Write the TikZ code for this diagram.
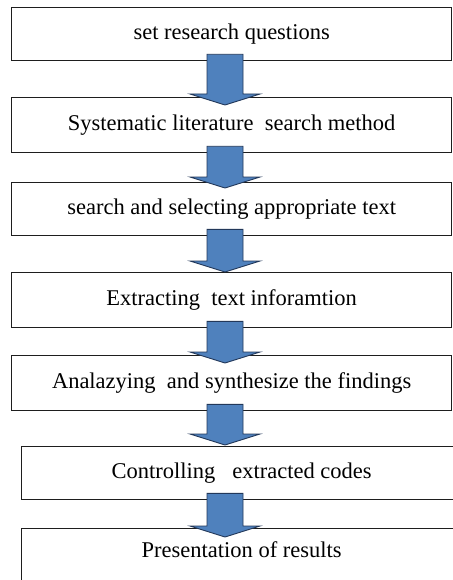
\documentclass[tikz,border=0pt]{standalone}
\usepackage{fontspec}
\setmainfont{Liberation Serif}
\usetikzlibrary{calc}
\definecolor{boxline}{HTML}{1E1E1E}
\definecolor{arrowfill}{HTML}{4F81BD}
\definecolor{arrowline}{HTML}{22385A}

% block arrow from the bottom of box #1 to box #2; #3 = how far the tip reaches into box #2
\newcommand\flowarrow[3]{%
  \path[blockarrow]
    ($(ax |- #1.south)+(-18,-7)$) --
    ($(ax |- #2.north)+(-18,#3-11)$) --
    ($(ax |- #2.north)+(-35,#3-11)$) --
    ($(ax |- #2.north)+(0,#3)$) --
    ($(ax |- #2.north)+(35,#3-11)$) --
    ($(ax |- #2.north)+(18,#3-11)$) --
    ($(ax |- #1.south)+(18,-7)$) -- cycle;%
}

\begin{document}
\begin{tikzpicture}[x=1pt,y=-1pt,
  labelfont/.style={font=\fontsize{22.5}{24}\selectfont},
  stepbox/.style={draw=boxline, line width=1.3pt, fill=white, anchor=north west,
    inner sep=0pt, labelfont},
  widebox/.style={stepbox, minimum width=440pt},
  blockarrow/.style={fill=arrowfill, draw=arrowline, line width=0.9pt, line join=miter}]
\useasboundingbox (0,0) rectangle (452,580);
\fill[white] (0,0) rectangle (452,580);
\coordinate (ax) at (225,0);

\node[widebox, minimum height=53pt] (b1) at (11,7) {set research questions};
\node[widebox, minimum height=55pt] (b2) at (11,97) {Systematic literature\ \ search method};
\node[widebox, minimum height=53pt] (b3) at (11,182) {search and selecting appropriate text};
\node[widebox, minimum height=55pt] (b4) at (11,272) {Extracting\ \ text inforamtion};
\node[widebox, minimum height=55pt] (b5) at (11,355) {Analazying\ \ and synthesize the findings};
\node[widebox, minimum height=53pt] (b6) at (21,446) {Controlling\ \ \ extracted codes};
\node[widebox, minimum height=60pt] (b7) at (21,528) {};
\node[labelfont, inner sep=0pt] (t7) at ($(b7.north)+(0,22)$) {Presentation of results};

\flowarrow{b1}{b2}{8}
\flowarrow{b2}{b3}{6}
\flowarrow{b3}{b4}{0}
\flowarrow{b4}{b5}{8}
\flowarrow{b5}{b6}{-1}
\flowarrow{b6}{b7}{9}
\end{tikzpicture}
\end{document}
